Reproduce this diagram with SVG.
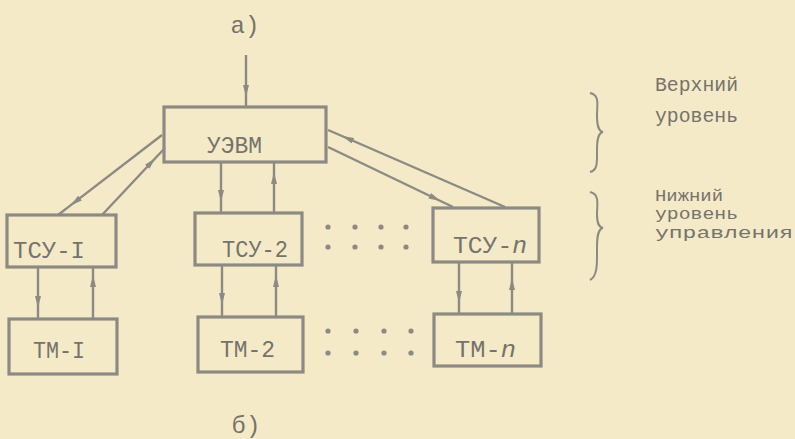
<svg xmlns="http://www.w3.org/2000/svg" width="795" height="439" viewBox="0 0 795 439">
<style>
.box{fill:none;stroke:#8c8a82;stroke-width:3.2}
.ln{fill:none;stroke:#8c8a82;stroke-width:2.4;marker-mid:url(#ah)}
.t{font-family:"Liberation Mono","DejaVu Sans Mono",monospace;fill:#75736b;font-size:24px}
.s{font-family:"Liberation Mono","DejaVu Sans Mono",monospace;fill:#75736b;font-size:20px}
.s2{font-family:"Liberation Mono","DejaVu Sans Mono",monospace;fill:#75736b;font-size:16px}
.br{fill:none;stroke:#8c8a82;stroke-width:2}
.dot{fill:#8c8a82}
</style>
<defs>
<marker id="ah" viewBox="0 0 12 6" refX="12" refY="3" markerWidth="12" markerHeight="6" markerUnits="userSpaceOnUse" orient="auto">
<path d="M0,0 L12,3 L0,6 Z" fill="#8c8a82"/>
</marker>
</defs>
<rect width="795" height="439" fill="#f4eac8"/>
<text class="t" x="245" y="33" text-anchor="middle" font-size="22">а)</text>
<text class="t" x="246" y="433" text-anchor="middle" font-size="22">б)</text>
<g id="connectors">
<polyline class="ln" points="246,55 246,97 246,107"/>
<polyline class="ln" points="162,135 70.5,205.4 58,215"/>
<polyline class="ln" points="102,215 155.5,158 165,148"/>
<polyline class="ln" points="505,207 342,136 328,130"/>
<polyline class="ln" points="328,147 440.5,201 453,207"/>
<polyline class="ln" points="221,162 221,202 221,213"/>
<polyline class="ln" points="274,213 274,172 274,162"/>
<polyline class="ln" points="38,267 38,308 38,319"/>
<polyline class="ln" points="93,319 93,275 93,267"/>
<polyline class="ln" points="222,265 222,305 222,317"/>
<polyline class="ln" points="276,317 276,275 276,265"/>
<polyline class="ln" points="459,262 459,303 459,314"/>
<polyline class="ln" points="512,314 512,278 512,262"/>
</g>
<g id="uevm"><rect class="box" x="164" y="107" width="162" height="55"/><text class="t" x="207" y="153" textLength="55" lengthAdjust="spacingAndGlyphs">УЭВМ</text></g>
<g id="tsu1"><rect class="box" x="7" y="215" width="109" height="52"/><text class="t" x="13" y="258" textLength="72" lengthAdjust="spacingAndGlyphs">ТСУ-I</text></g>
<g id="tsu2"><rect class="box" x="195" y="213" width="107" height="52"/><text class="t" x="222" y="257" textLength="66" lengthAdjust="spacingAndGlyphs">ТСУ-2</text></g>
<g id="tsun"><rect class="box" x="433" y="208" width="106" height="54"/><text class="t" x="453" y="253" textLength="74" lengthAdjust="spacingAndGlyphs">ТСУ-<tspan font-style="italic">n</tspan></text></g>
<g id="tm1"><rect class="box" x="9" y="319" width="108" height="55"/><text class="t" x="33" y="358" textLength="52" lengthAdjust="spacingAndGlyphs">ТМ-I</text></g>
<g id="tm2"><rect class="box" x="198" y="317" width="105" height="55"/><text class="t" x="220" y="357" textLength="55" lengthAdjust="spacingAndGlyphs">ТМ-2</text></g>
<g id="tmn"><rect class="box" x="434" y="314" width="107" height="52"/><text class="t" x="455" y="357" textLength="61" lengthAdjust="spacingAndGlyphs">ТМ-<tspan font-style="italic">n</tspan></text></g>
<g id="dots">
<circle class="dot" cx="328" cy="227" r="2.6"/><circle class="dot" cx="355" cy="227" r="2.6"/><circle class="dot" cx="381" cy="227" r="2.6"/><circle class="dot" cx="406" cy="227" r="2.6"/>
<circle class="dot" cx="328" cy="247" r="2.6"/><circle class="dot" cx="355" cy="247" r="2.6"/><circle class="dot" cx="381" cy="247" r="2.6"/><circle class="dot" cx="406" cy="247" r="2.6"/>
<circle class="dot" cx="328" cy="331" r="2.6"/><circle class="dot" cx="356" cy="331" r="2.6"/><circle class="dot" cx="384" cy="331" r="2.6"/><circle class="dot" cx="411" cy="331" r="2.6"/>
<circle class="dot" cx="328" cy="353" r="2.6"/><circle class="dot" cx="356" cy="353" r="2.6"/><circle class="dot" cx="384" cy="353" r="2.6"/><circle class="dot" cx="411" cy="353" r="2.6"/>
</g>
<g id="levels">
<path class="br" d="M590,93 C600,95 597,105 597,115 C597,125 598,131 603,132 C598,133 597,140 597,150 C597,162 598,170 590,172"/>
<path class="br" d="M590,192 C600,194 597,205 597,214 C597,222 598,227 603,228 C598,229 597,236 597,248 C597,262 598,276 590,280"/>
<text class="s" x="655" y="91" textLength="83" lengthAdjust="spacingAndGlyphs">Верхний</text>
<text class="s" x="655" y="122" textLength="83" lengthAdjust="spacingAndGlyphs">уровень</text>
<text class="s2" x="655" y="201" textLength="68" lengthAdjust="spacingAndGlyphs">Нижний</text>
<text class="s2" x="655" y="219" textLength="83" lengthAdjust="spacingAndGlyphs">уровень</text>
<text class="s2" x="655" y="237.5" textLength="138" lengthAdjust="spacingAndGlyphs">управления</text>
</g>
</svg>
